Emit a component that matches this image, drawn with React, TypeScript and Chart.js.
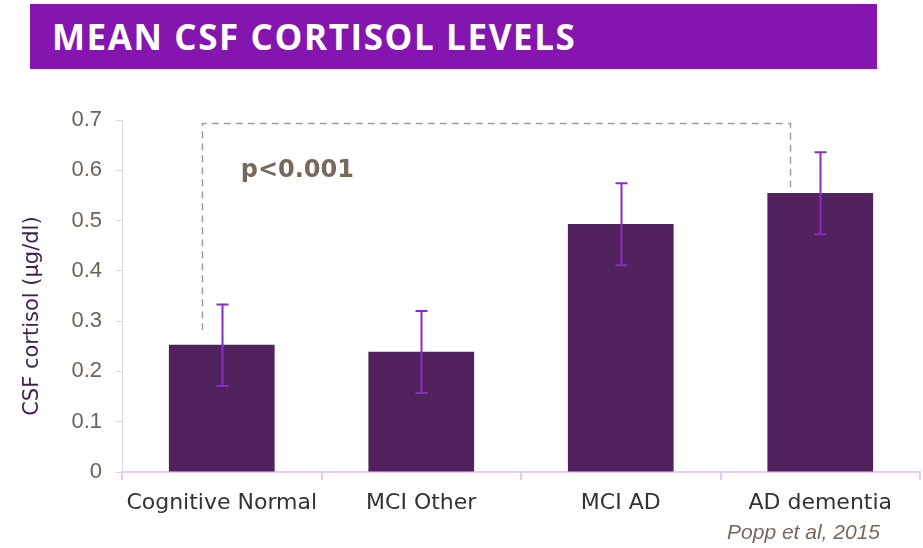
import React, { useEffect, useRef } from "react";
import { Chart, registerables } from "chart.js";

Chart.register(...registerables);

const categories = ["Cognitive Normal", "MCI Other", "MCI AD", "AD dementia"];
const meanValues = [0.253, 0.239, 0.493, 0.555];
const errLow = [0.171, 0.157, 0.411, 0.473];
const errHigh = [0.333, 0.320, 0.574, 0.636];
const yTicks = [0, 0.1, 0.2, 0.3, 0.4, 0.5, 0.6, 0.7];
const titleText = "MEAN CSF CORTISOL LEVELS";
const yAxisTitle = "CSF cortisol (\u00b5g/dl)";
const yAxisTitleCenter = 0.31;
const pValueText = "p<0.001";
const citation = "Popp et al, 2015";
const bracketLeft = { index: -0.1, value: 0.282 };
const bracketRight = { index: 2.85, value: 0.567 };
const bracketTop = 0.694;
const pLabelPos = { index: 0.095, value: 0.6 };

const errorBarPlugin = {
  id: "errorBars",
  afterDatasetsDraw(chart: any) {
    const ctx = chart.ctx;
    const meta = chart.getDatasetMeta(0);
    const y = chart.scales.y;
    ctx.save();
    ctx.strokeStyle = "#8A2BC4";
    ctx.lineWidth = 2;
    meta.data.forEach((bar: any, i: number) => {
      const x = Math.round(bar.x) + 0.5;
      const yl = y.getPixelForValue(errLow[i]);
      const yh = y.getPixelForValue(errHigh[i]);
      ctx.beginPath();
      ctx.moveTo(x, yl);
      ctx.lineTo(x, yh);
      ctx.moveTo(x - 6, yl);
      ctx.lineTo(x + 6, yl);
      ctx.moveTo(x - 6, yh);
      ctx.lineTo(x + 6, yh);
      ctx.stroke();
    });
    ctx.restore();
  },
};

const bracketPlugin = {
  id: "bracket",
  afterDatasetsDraw(chart: any) {
    const ctx = chart.ctx;
    const xs = chart.scales.x;
    const ys = chart.scales.y;
    const x1 = Math.round(xs.getPixelForValue(bracketLeft.index)) + 0.5;
    const x2 = Math.round(xs.getPixelForValue(bracketRight.index)) + 0.5;
    const yt = Math.round(ys.getPixelForValue(bracketTop)) + 0.5;
    const y1 = ys.getPixelForValue(bracketLeft.value);
    const y2 = ys.getPixelForValue(bracketRight.value);
    ctx.save();
    ctx.strokeStyle = "#9E9E9E";
    ctx.lineWidth = 1.5;
    ctx.setLineDash([7, 5]);
    ctx.beginPath();
    ctx.moveTo(x1, y1);
    ctx.lineTo(x1, yt);
    ctx.lineTo(x2, yt);
    ctx.lineTo(x2, y2);
    ctx.stroke();
    ctx.setLineDash([]);
    ctx.fillStyle = "#76685B";
    ctx.font = "bold 24px 'DejaVu Sans', sans-serif";
    ctx.textAlign = "left";
    ctx.textBaseline = "middle";
    ctx.fillText(pValueText, xs.getPixelForValue(pLabelPos.index), ys.getPixelForValue(pLabelPos.value));
    // y axis title
    ctx.translate(33, ys.getPixelForValue(yAxisTitleCenter));
    ctx.rotate(-Math.PI / 2);
    ctx.fillStyle = "#3D1E52";
    ctx.font = "21px 'DejaVu Sans', sans-serif";
    ctx.textAlign = "center";
    ctx.textBaseline = "middle";
    ctx.fillText(yAxisTitle, 0, 0);
    ctx.restore();
  },
};

export default function App() {
  const canvasRef = useRef<HTMLCanvasElement | null>(null);

  useEffect(() => {
    if (!canvasRef.current) return;
    const chart = new Chart(canvasRef.current, {
      type: "bar",
      data: {
        labels: categories,
        datasets: [
          {
            data: meanValues,
            backgroundColor: "#52225E",
            borderWidth: 0,
            categoryPercentage: 0.53,
            barPercentage: 1,
          },
        ],
      },
      options: {
        animation: false,
        responsive: false,
        maintainAspectRatio: false,
        layout: { padding: { top: 120, right: 3, left: 0, bottom: 0 } },
        plugins: {
          legend: { display: false },
          tooltip: { enabled: false },
        },
        scales: {
          x: {
            grid: {
              drawOnChartArea: false,
              drawTicks: true,
              tickLength: 8,
              tickColor: "#E3CDF2",
              lineWidth: 2,
            },
            border: { color: "#E3CDF2", width: 2 },
            ticks: {
              color: "#333333",
              font: { family: "'DejaVu Sans', sans-serif", size: 22 },
              padding: 10,
              maxRotation: 0,
            },
            afterFit(scale: any) {
              scale.height = 76;
            },
          },
          y: {
            min: 0,
            max: 0.7,
            afterBuildTicks(scale: any) {
              scale.ticks = yTicks.map((v) => ({ value: v }));
            },
            grid: {
              drawOnChartArea: false,
              drawTicks: true,
              tickLength: 6,
              tickColor: (c: any) => (c.tick && c.tick.value === 0 ? "#E3CDF2" : "#D9D9D9"),
            },
            border: { color: "#D9D9D9", width: 1 },
            ticks: {
              color: "#6E6357",
              font: { family: "'Liberation Sans', Arial, sans-serif", size: 22 },
              padding: 14,
              callback: (v: any) => String(v),
            },
            title: { display: false },
            afterFit(scale: any) {
              scale.width = 122;
            },
          },
        },
      },
      plugins: [bracketPlugin, errorBarPlugin],
    });
    return () => chart.destroy();
  }, []);

  return (
    <div style={{ position: "fixed", left: 0, top: 0, width: 923, height: 548, background: "#ffffff", overflow: "hidden" }}>
      <canvas ref={canvasRef} width={923} height={548} style={{ position: "absolute", left: 0, top: 0, width: 923, height: 548 }} />
      <div
        style={{
          position: "absolute",
          left: 30,
          top: 4,
          width: 847,
          height: 65,
          background: "#8415AE",
          color: "#ffffff",
          fontFamily: "'Open Sans', Lato, sans-serif",
          fontWeight: 700,
          fontSize: 35,
          lineHeight: "66px",
          paddingLeft: 22,
          boxSizing: "border-box",
          letterSpacing: 1.6,
          whiteSpace: "nowrap",
        }}
      >
        {titleText}
      </div>
      <div
        style={{
          position: "absolute",
          right: 43,
          top: 519,
          color: "#76685B",
          fontFamily: "'Liberation Sans', Arial, sans-serif",
          fontStyle: "italic",
          fontSize: 21,
          lineHeight: "26px",
          whiteSpace: "nowrap",
        }}
      >
        {citation}
      </div>
    </div>
  );
}
